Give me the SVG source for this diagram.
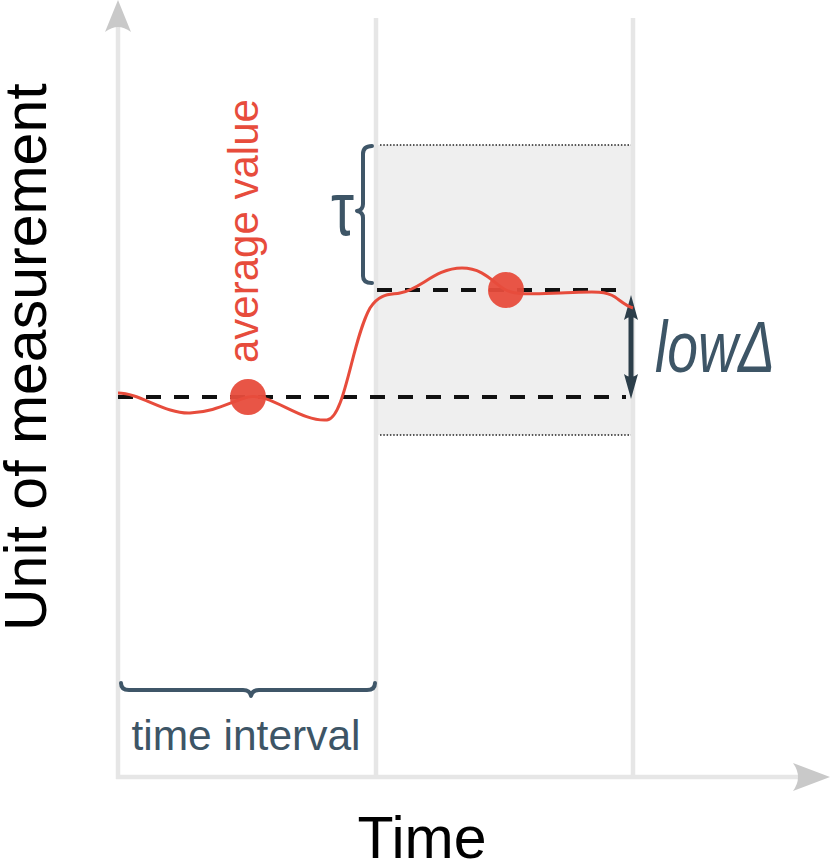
<svg xmlns="http://www.w3.org/2000/svg" width="830" height="862" viewBox="0 0 830 862">
<style>
.axis{stroke:#e6e6e6;stroke-width:4.5;fill:none}
.axhead{fill:#c9c9c9}
.dash{stroke:#111;stroke-width:4;stroke-dasharray:15,13;fill:none}
.dot{stroke:#222;stroke-width:1.5;stroke-dasharray:1.5,1.8;fill:none}
.brace{stroke:#3f5668;stroke-width:4;fill:none;stroke-linecap:round;stroke-linejoin:round}
.slate{fill:#3d5566;font-family:"Liberation Sans",Arial,sans-serif}
.red{fill:#e74c3c}
.lbl{font-family:"Liberation Sans",Arial,sans-serif}
</style>
<rect width="830" height="862" fill="#ffffff"/>
<g id="band">
<rect x="376" y="145" width="257" height="290" fill="#efefef"/>
<line class="dot" x1="380" y1="145" x2="632" y2="145"/>
<line class="dot" x1="380" y1="435" x2="632" y2="435"/>
</g>
<g id="axes">
<line class="axis" x1="118" y1="26" x2="118" y2="779"/>
<line class="axis" x1="116" y1="777" x2="798" y2="777"/>
<line class="axis" x1="376" y1="18" x2="376" y2="777"/>
<line class="axis" x1="633" y1="18" x2="633" y2="777"/>
<path class="axhead" d="M118,0 L131,32 Q124,27 118,27 Q112,27 105,32 Z"/>
<path class="axhead" d="M830,777 L793,763 Q798,770 798,777 Q798,784 793,791 Z"/>
</g>
<g id="connectors">
<line class="dash" x1="118" y1="397" x2="626" y2="397"/>
<line class="dash" x1="377" y1="290" x2="622" y2="290"/>
<g id="lowdelta-arrow" fill="#2c3e4a">
<line x1="631" y1="310" x2="631" y2="384" stroke="#2c3e4a" stroke-width="5"/>
<path d="M631,295 L638,320 Q631,314 624,320 Z"/>
<path d="M631,399 L638,374 Q631,380 624,374 Z"/>
</g>
</g>
<g id="signal">
<path d="M118,393 C140,393 165,414 190,413 C215,412 230,402 248,397 C270,392 300,422 327,420 C345,418 352,340 370,308 C380,292 392,295 400,293 C420,290 435,268 462,268 C485,268 495,285 506,290 C515,295 530,294 560,293 C590,292 605,290 615,297 C622,302 626,306 633,308" fill="none" stroke="#e74c3c" stroke-width="3"/>
</g>
<g id="avg1"><circle cx="248" cy="397" r="18" fill="#e74c3c" fill-opacity="0.95"/></g>
<g id="avg2"><circle cx="506" cy="290" r="18" fill="#e74c3c" fill-opacity="0.95"/></g>
<g id="avg-label">
<text class="red lbl" font-size="42" transform="translate(258,363) rotate(-90)">average value</text>
</g>
<g id="tau">
<path class="brace" d="M372,146 Q363,146 363,154 L363,204 Q363,210 357,211 Q363,212 363,218 L363,276 Q363,283 372,283"/>
<text class="slate" font-size="76" x="331" y="235" textLength="23" lengthAdjust="spacingAndGlyphs">τ</text>
</g>
<g id="lowdelta">
<text class="slate" font-size="72" font-style="italic" x="655" y="372" textLength="120" lengthAdjust="spacingAndGlyphs">lowΔ</text>
</g>
<g id="interval">
<path class="brace" d="M121,683 Q121,690 129,690 L243,690 Q250,690 251,696 Q252,690 259,690 L367,690 Q375,690 375,683"/>
<text class="slate" font-size="42.5" x="246" y="750" text-anchor="middle">time interval</text>
</g>
<g id="ylabel">
<text class="lbl" font-size="59" fill="#000" transform="translate(46,631) rotate(-90)">Unit of measurement</text>
</g>
<g id="xlabel">
<text class="lbl" font-size="59" fill="#000" x="422" y="858" text-anchor="middle">Time</text>
</g>
</svg>
